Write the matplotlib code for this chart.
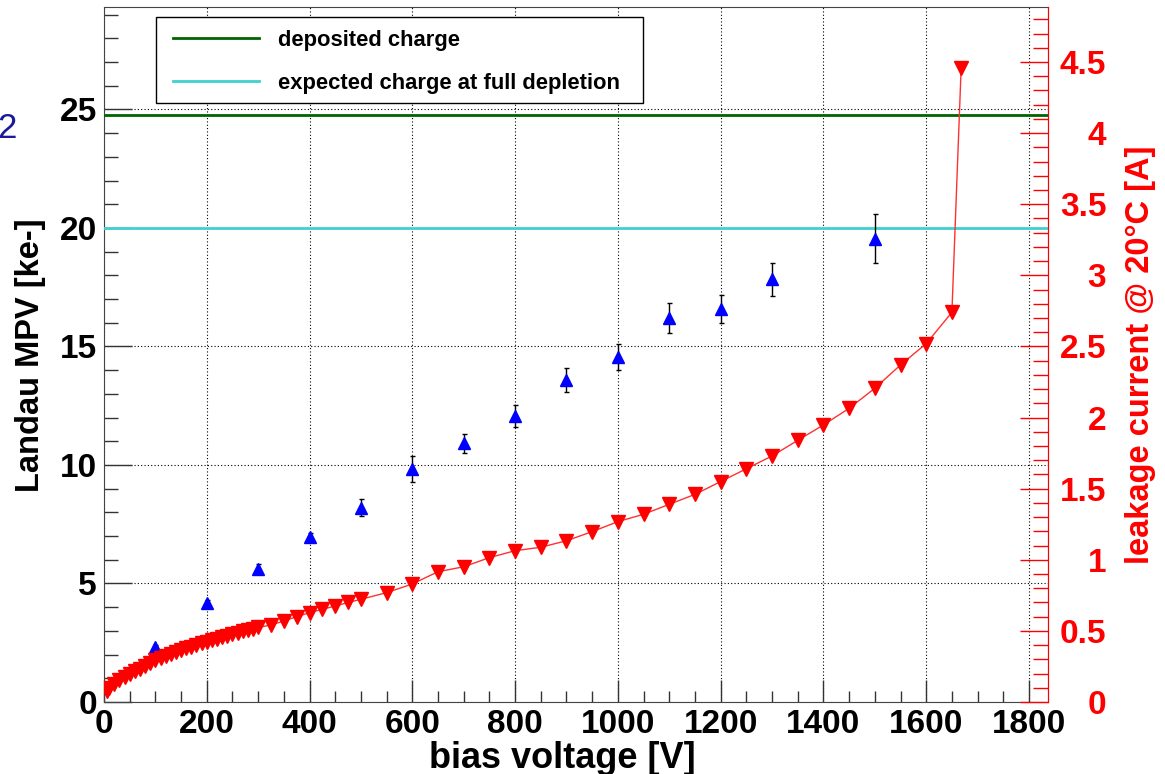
import matplotlib
matplotlib.use("Agg")
import matplotlib.pyplot as plt
from matplotlib.patches import Rectangle
from matplotlib.ticker import MultipleLocator

plt.rcParams["font.family"] = ["Liberation Sans", "DejaVu Sans"]
plt.rcParams["font.weight"] = "bold"
plt.rcParams["axes.labelweight"] = "bold"

# landau mpv (blau, linke achse)
mpv_v = [100, 200, 300, 400, 500, 600, 700, 800, 900, 1000, 1100, 1200, 1300, 1500]
mpv = [2.33, 4.19, 5.61, 6.95, 8.2, 9.82, 10.91, 12.07, 13.59, 14.57, 16.19, 16.58, 17.83, 19.54]
mpv_err = [0.08, 0.1, 0.2, 0.2, 0.35, 0.54, 0.41, 0.47, 0.51, 0.55, 0.63, 0.6, 0.7, 1.03]

deposited = 24.75
expected = 20.0

# leckstrom (rot, rechte achse)
cur_v = [5, 10, 20, 30, 40, 50, 60, 70, 80, 90, 100, 110, 120, 130, 140, 150, 160, 170, 180, 190,
         200, 210, 220, 230, 240, 250, 260, 270, 280, 290, 300,
         325, 350, 375, 400, 425, 450, 475, 500,
         550, 600, 650, 700, 750, 800, 850, 900, 950, 1000, 1050, 1100, 1150, 1200, 1250, 1300,
         1350, 1400, 1450, 1500, 1550, 1600, 1650, 1668]
cur = [0.08, 0.10, 0.13, 0.155, 0.175, 0.195, 0.215, 0.235, 0.255, 0.275, 0.295, 0.31, 0.325, 0.34,
       0.352, 0.365, 0.378, 0.39, 0.402, 0.413, 0.424, 0.435, 0.445, 0.456, 0.466, 0.476, 0.486,
       0.496, 0.506, 0.515, 0.525,
       0.541, 0.57, 0.60, 0.628, 0.652, 0.675, 0.70, 0.722,
       0.769, 0.83, 0.916, 0.951, 1.015, 1.064, 1.088, 1.134, 1.198, 1.268, 1.32, 1.39, 1.46, 1.55,
       1.64, 1.73, 1.84, 1.948, 2.065, 2.206, 2.37, 2.52, 2.74, 4.46]

left_ticks = [0, 5, 10, 15, 20, 25]
right_ticks = [0, 0.5, 1, 1.5, 2, 2.5, 3, 3.5, 4, 4.5]
right_labels = ["0", "0.5", "1", "1.5", "2", "2.5", "3", "3.5", "4", "4.5"]

W, H = 1165, 774
fig = plt.figure(figsize=(W / 100, H / 100), dpi=100)
ax = fig.add_axes([104 / W, 1 - 702 / H, 944 / W, 694.5 / H])

ax.axhline(deposited, color="#006400", lw=2, label="deposited charge", zorder=3)
ax.axhline(expected, color="#40d0d0", lw=2, label="expected charge at full depletion", zorder=3)
ax.errorbar(mpv_v, mpv, yerr=mpv_err, fmt="^", color="blue", ms=8, ecolor="black",
            elinewidth=1, capsize=1.8, capthick=1, zorder=5)

ax.set_xlim(0, 1837)
ax.set_ylim(0, 29.3)
ax.xaxis.set_major_locator(MultipleLocator(200))
ax.xaxis.set_minor_locator(MultipleLocator(50))
ax.set_yticks(left_ticks)
ax.yaxis.set_minor_locator(MultipleLocator(1))
ax.grid(True, which="major", color="black", linestyle=(0, (1, 2)), lw=0.8)

ax.tick_params(axis="x", which="major", direction="in", length=16, width=1, color="#333333",
               labelsize=24, pad=5, top=False)
ax.tick_params(axis="x", which="minor", direction="in", length=8, width=1, color="#333333", top=False)
ax.tick_params(axis="y", which="major", direction="in", length=20, width=1, color="#333333",
               labelsize=24, pad=5, right=False)
ax.tick_params(axis="y", which="minor", direction="in", length=10, width=1, color="#333333", right=False)
for s in ax.spines.values():
    s.set_color("#444444")

ax.set_xlabel("bias voltage [V]", fontsize=26)
ax.xaxis.set_label_coords(0.485, -0.095)
ax.xaxis.label.set_va("baseline")
ax.set_ylabel("Landau MPV [ke-]", fontsize=23.5)
ax.yaxis.set_label_coords(-0.078, 0.5)
ax.yaxis.label.set_va("center")

# zweite achse fuer den strom
ax2 = ax.twinx()
ax2.plot(cur_v, cur, color="#ff3030", lw=1, marker="v", ms=10, mfc="red", mec="red", zorder=4)
ax2.set_ylim(0, 29.3 / 6)
ax2.set_yticks(right_ticks, labels=right_labels, ha="right")
ax2.yaxis.set_minor_locator(MultipleLocator(0.1))
ax2.tick_params(axis="y", which="major", direction="in", length=20, width=1, color="red",
                labelcolor="red", labelsize=24, pad=42)
ax2.tick_params(axis="y", which="minor", direction="in", length=10.5, width=1, color="red")
ax2.spines["right"].set_color("red")
for k in ["left", "top", "bottom"]:
    ax2.spines[k].set_visible(False)
ax2.set_ylabel("leakage current @ 20°C [A]", fontsize=23.5, color="red")
ax2.yaxis.set_label_coords(1.0975, 0.5)
ax2.yaxis.label.set_va("center")

# legende ohne rahmen, rahmen extra wie bei root
h, l = ax.get_legend_handles_labels()
fig.legend(h, l, loc="upper left", bbox_to_anchor=(173 / W, 1 - 30 / H),
           bbox_transform=fig.transFigure, fontsize=15.8, frameon=False,
           borderaxespad=0, borderpad=0, handlelength=3.9, handletextpad=0.9, labelspacing=1.0)
fig.add_artist(Rectangle((155.7 / W, 1 - 102.7 / H), (643 - 155.7) / W, 86 / H,
                         transform=fig.transFigure, fill=True, facecolor="white",
                         edgecolor="black", lw=1, zorder=2.5))

fig.text(-0.002, 1 - 138 / H, "2", color="#1a1a9a", fontsize=25, fontweight="normal",
         ha="left", va="baseline")

fig.savefig("out.png", dpi=100)
